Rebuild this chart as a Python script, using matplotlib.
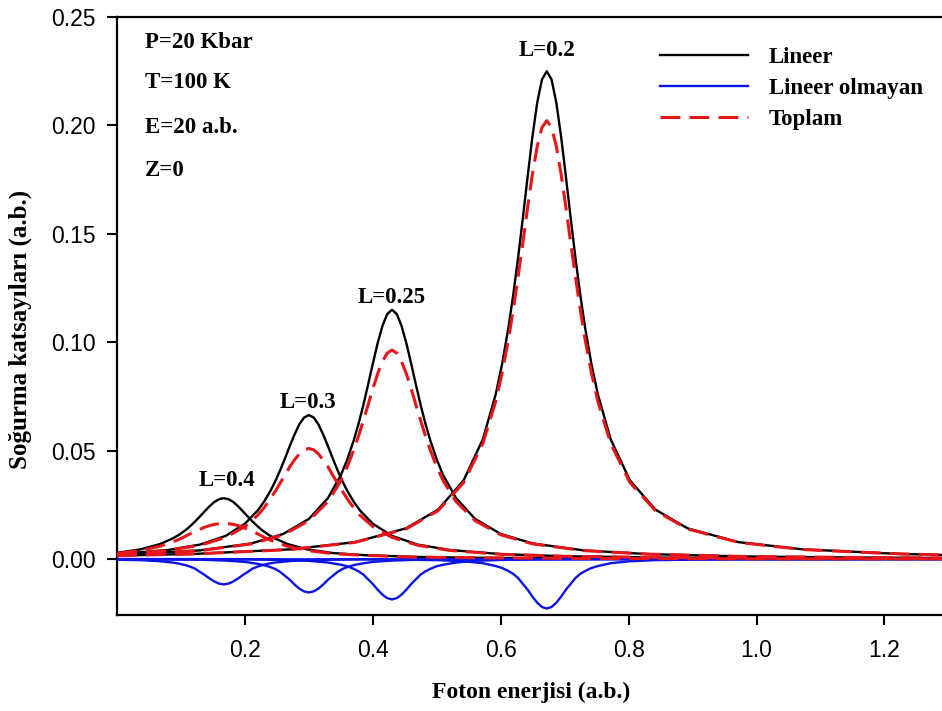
import matplotlib
matplotlib.use("Agg")
import matplotlib.pyplot as plt

# L=0.2
x_L02 = [0.0, 0.122, 0.272, 0.372, 0.452, 0.502, 0.542, 0.572, 0.592, 0.602, 0.612, 0.6195, 0.627, 0.6345, 0.642, 0.6495, 0.657, 0.6645,
         0.672,
         0.6795, 0.687, 0.6945, 0.702, 0.7095, 0.717, 0.7245, 0.732, 0.742, 0.752, 0.772, 0.802, 0.842, 0.892, 0.972, 1.072, 1.222, 1.29]
lin_L02 = [0.0016, 0.0024, 0.0045, 0.0078, 0.0142, 0.0228, 0.0363, 0.0552, 0.0758, 0.0897, 0.1067, 0.1217, 0.1386, 0.1570, 0.1762, 0.1947, 0.2104, 0.2212,
           0.2250,
           0.2212, 0.2104, 0.1947, 0.1762, 0.1570, 0.1386, 0.1217, 0.1067, 0.0897, 0.0758, 0.0552, 0.0363, 0.0228, 0.0142, 0.0078, 0.0045, 0.0024, 0.0019]
nonlin_L02 = [0.0, 0.0, -0.0001, -0.0001, -0.0003, -0.0005, -0.0010, -0.0019, -0.0032, -0.0041, -0.0055, -0.0068, -0.0087, -0.0114, -0.0141, -0.0173, -0.0201, -0.0221,
              -0.0228,
              -0.0221, -0.0201, -0.0173, -0.0141, -0.0114, -0.0087, -0.0068, -0.0055, -0.0041, -0.0032, -0.0019, -0.0010, -0.0005, -0.0003, -0.0001, -0.0001, 0.0, 0.0]
tot_L02 = [0.0016, 0.0024, 0.0044, 0.0077, 0.0139, 0.0223, 0.0353, 0.0533, 0.0726, 0.0856, 0.1012, 0.1149, 0.1299, 0.1456, 0.1621, 0.1774, 0.1903, 0.1991,
           0.2022,
           0.1991, 0.1903, 0.1774, 0.1621, 0.1456, 0.1299, 0.1149, 0.1012, 0.0856, 0.0726, 0.0533, 0.0353, 0.0223, 0.0139, 0.0077, 0.0044, 0.0024, 0.0019]

# L=0.25
x_L025 = [0.0, 0.13, 0.21, 0.26, 0.30, 0.33, 0.35, 0.36, 0.37, 0.3775, 0.385, 0.3925, 0.40, 0.4075, 0.415, 0.4225,
          0.43,
          0.4375, 0.445, 0.4525, 0.46, 0.4675, 0.475, 0.4825, 0.49, 0.50, 0.51, 0.53, 0.56, 0.60, 0.65, 0.73, 0.83, 0.98, 1.13, 1.29]
lin_L025 = [0.0020, 0.0040, 0.0072, 0.0116, 0.0185, 0.0282, 0.0387, 0.0459, 0.0546, 0.0622, 0.0708, 0.0803, 0.0901, 0.0995, 0.1075, 0.1130,
            0.1150,
            0.1130, 0.1075, 0.0995, 0.0901, 0.0803, 0.0708, 0.0622, 0.0546, 0.0459, 0.0387, 0.0282, 0.0185, 0.0116, 0.0072, 0.0040, 0.0023, 0.0012, 0.0008, 0.0005]
nonlin_L025 = [0.0, -0.0001, -0.0002, -0.0004, -0.0008, -0.0016, -0.0026, -0.0033, -0.0045, -0.0056, -0.0071, -0.0093, -0.0115, -0.0141, -0.0164, -0.0180,
               -0.0186,
               -0.0180, -0.0164, -0.0141, -0.0115, -0.0093, -0.0071, -0.0056, -0.0045, -0.0033, -0.0026, -0.0016, -0.0008, -0.0004, -0.0002, -0.0001, 0.0, 0.0, 0.0, 0.0]
tot_L025 = [0.0020, 0.0039, 0.0070, 0.0112, 0.0177, 0.0266, 0.0361, 0.0426, 0.0501, 0.0566, 0.0637, 0.0710, 0.0786, 0.0854, 0.0911, 0.0950,
            0.0964,
            0.0950, 0.0911, 0.0854, 0.0786, 0.0710, 0.0637, 0.0566, 0.0501, 0.0426, 0.0361, 0.0266, 0.0177, 0.0112, 0.0070, 0.0039, 0.0023, 0.0012, 0.0008, 0.0005]

# L=0.3
x_L03 = [0.0, 0.08, 0.13, 0.17, 0.20, 0.22, 0.23, 0.24, 0.2475, 0.255, 0.2625, 0.27, 0.2775, 0.285, 0.2925,
         0.30,
         0.3075, 0.315, 0.3225, 0.33, 0.3375, 0.345, 0.3525, 0.36, 0.37, 0.38, 0.40, 0.43, 0.47, 0.52, 0.60, 0.70, 0.85, 1.00, 1.29]
lin_L03 = [0.0023, 0.0042, 0.0067, 0.0107, 0.0163, 0.0224, 0.0265, 0.0315, 0.0359, 0.0409, 0.0463, 0.0520, 0.0574, 0.0621, 0.0653,
           0.0664,
           0.0653, 0.0621, 0.0574, 0.0520, 0.0463, 0.0409, 0.0359, 0.0315, 0.0265, 0.0224, 0.0163, 0.0107, 0.0067, 0.0042, 0.0023, 0.0013, 0.0007, 0.0004, 0.0002]
nonlin_L03 = [-0.0001, -0.0002, -0.0003, -0.0007, -0.0013, -0.0022, -0.0028, -0.0037, -0.0046, -0.0059, -0.0077, -0.0095, -0.0117, -0.0136, -0.0149,
              -0.0154,
              -0.0149, -0.0136, -0.0117, -0.0095, -0.0077, -0.0059, -0.0046, -0.0037, -0.0028, -0.0022, -0.0013, -0.0007, -0.0003, -0.0002, -0.0001, 0.0, 0.0, 0.0, 0.0]
tot_L03 = [0.0022, 0.0040, 0.0064, 0.0100, 0.0150, 0.0202, 0.0237, 0.0278, 0.0313, 0.0350, 0.0386, 0.0425, 0.0457, 0.0485, 0.0504,
           0.0510,
           0.0504, 0.0485, 0.0457, 0.0425, 0.0386, 0.0350, 0.0313, 0.0278, 0.0237, 0.0202, 0.0150, 0.0100, 0.0064, 0.0040, 0.0022, 0.0013, 0.0007, 0.0004, 0.0002]

# L=0.4
x_L04 = [0.0, 0.037, 0.067, 0.087, 0.097, 0.107, 0.1145, 0.122, 0.1295, 0.137, 0.1445, 0.152, 0.1595,
         0.167,
         0.1745, 0.182, 0.1895, 0.197, 0.2045, 0.212, 0.2195, 0.227, 0.237, 0.247, 0.267, 0.297, 0.337, 0.387, 0.467, 0.567, 0.717, 0.867, 1.067, 1.29]
lin_L04 = [0.0029, 0.0045, 0.0069, 0.0095, 0.0112, 0.0133, 0.0152, 0.0173, 0.0196, 0.0220, 0.0243, 0.0263, 0.0276,
           0.0281,
           0.0276, 0.0263, 0.0243, 0.0220, 0.0196, 0.0173, 0.0152, 0.0133, 0.0112, 0.0095, 0.0069, 0.0045, 0.0028, 0.0018, 0.0010, 0.0006, 0.0003, 0.0002, 0.0001, 0.0001]
nonlin_L04 = [-0.0003, -0.0005, -0.0010, -0.0016, -0.0021, -0.0028, -0.0035, -0.0044, -0.0059, -0.0073, -0.0089, -0.0103, -0.0113,
              -0.0117,
              -0.0113, -0.0103, -0.0089, -0.0073, -0.0059, -0.0044, -0.0035, -0.0028, -0.0021, -0.0016, -0.0010, -0.0005, -0.0003, -0.0001, -0.0001, 0.0, 0.0, 0.0, 0.0, 0.0]
tot_L04 = [0.0026, 0.0040, 0.0059, 0.0079, 0.0091, 0.0105, 0.0117, 0.0129, 0.0137, 0.0147, 0.0154, 0.0160, 0.0163,
           0.0164,
           0.0163, 0.0160, 0.0154, 0.0147, 0.0137, 0.0129, 0.0117, 0.0105, 0.0091, 0.0079, 0.0059, 0.0040, 0.0025, 0.0017, 0.0009, 0.0006, 0.0003, 0.0002, 0.0001, 0.0001]

peak_labels = ["L=0.2", "L=0.25", "L=0.3", "L=0.4"]
label_x = [0.672, 0.429, 0.299, 0.172]
label_y = [0.2348, 0.1208, 0.0720, 0.0364]
params_text = ["P=20 Kbar", "T=100 K", "E=20 a.b.", "Z=0"]
params_y = [0.958, 0.890, 0.816, 0.744]
legend_labels = ["Lineer", "Lineer olmayan", "Toplam"]

xs = [x_L02, x_L025, x_L03, x_L04]
lins = [lin_L02, lin_L025, lin_L03, lin_L04]
nonlins = [nonlin_L02, nonlin_L025, nonlin_L03, nonlin_L04]
tots = [tot_L02, tot_L025, tot_L03, tot_L04]

serif = "Liberation Serif"
plt.rcParams["font.family"] = "Liberation Sans"

fig = plt.figure(figsize=(9.42, 7.11), dpi=100)
ax = fig.add_axes([0.1242, 0.135, 0.8758, 0.841])

red = "#e8151b"
for i in range(4):
    ax.plot(xs[i], lins[i], color="black", lw=1.7, label=legend_labels[0] if i == 0 else None, zorder=2)
for i in range(4):
    ax.plot(xs[i], nonlins[i], color="#0a14e6", lw=1.7, label=legend_labels[1] if i == 0 else None, zorder=3)
for i in range(4):
    ax.plot(xs[i], tots[i], color=red, lw=2.2, dashes=(6.5, 3.0),
            label=legend_labels[2] if i == 0 else None, zorder=4)

for lab, lx, ly in zip(peak_labels, label_x, label_y):
    ax.text(lx, ly, lab, ha="center", va="center", fontsize=16.5, fontweight="bold", family=serif)

for t, ty in zip(params_text, params_y):
    ax.text(0.034, ty, t, transform=ax.transAxes,
            ha="left", va="center", fontsize=16.5, fontweight="bold", family=serif)

ax.legend(loc="upper left", bbox_to_anchor=(0.633, 0.985), frameon=False,
          prop={"family": serif, "weight": "bold", "size": 16.5},
          handlelength=3.85, handletextpad=0.9, labelspacing=0.45)

ax.set_xlim(0.0, 1.29)
ax.set_ylim(-0.0258, 0.25)
ax.set_xticks([0.2, 0.4, 0.6, 0.8, 1.0, 1.2])
ax.set_xticklabels(["0.2", "0.4", "0.6", "0.8", "1.0", "1.2"])
ax.set_yticks([0.0, 0.05, 0.10, 0.15, 0.20, 0.25])
ax.set_yticklabels(["0.00", "0.05", "0.10", "0.15", "0.20", "0.25"])
ax.tick_params(direction="out", length=7, width=1.5, labelsize=16.5, pad=8.5)
ax.tick_params(axis="x", pad=10)
ax.spines["right"].set_visible(False)
for s in ["left", "bottom", "top"]:
    ax.spines[s].set_linewidth(1.6)

ax.set_xlabel("Foton enerjisi (a.b.)", family=serif, fontweight="bold", fontsize=17, va="top")
ax.xaxis.set_label_coords(0.502, -0.112)
ax.set_ylabel("Soğurma katsayıları (a.b.)", family=serif, fontweight="bold", fontsize=18)
ax.yaxis.set_label_coords(-0.103, 0.477)

fig.savefig("out.png", dpi=100)
